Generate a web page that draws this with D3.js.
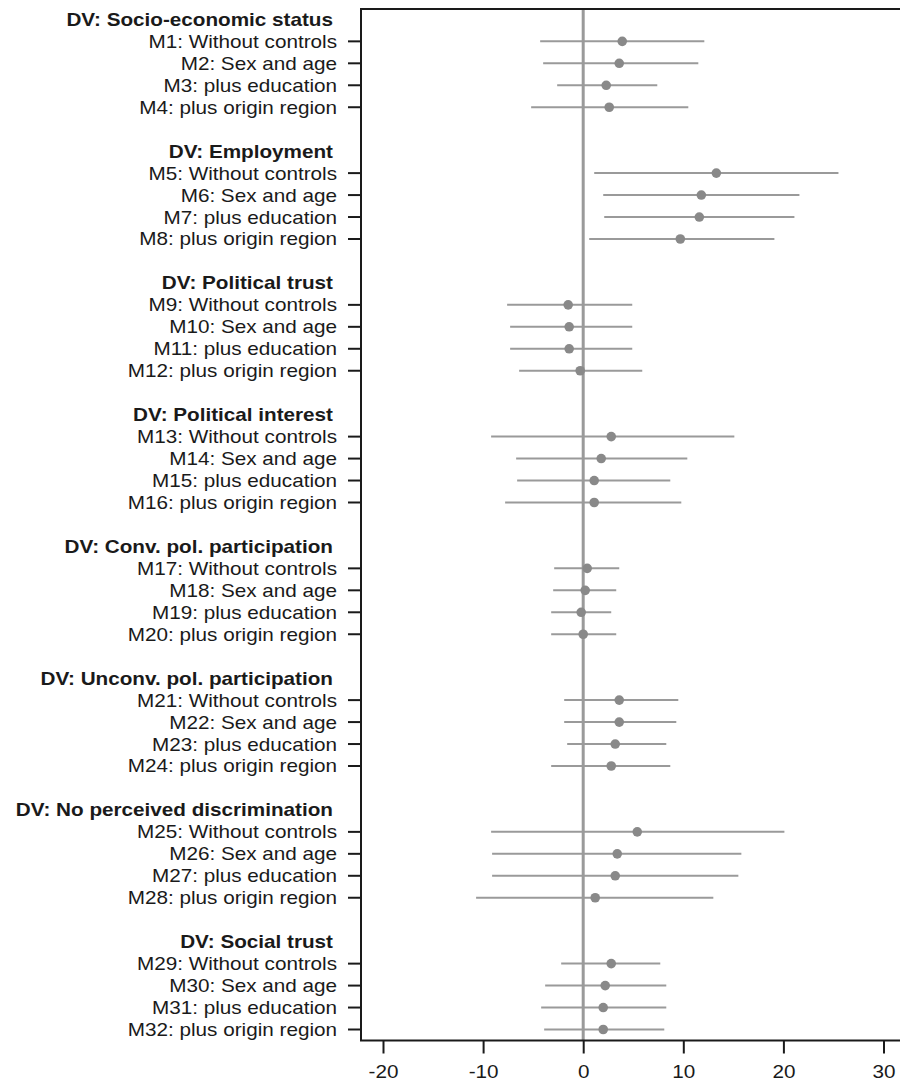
<!DOCTYPE html>
<html>
<head>
<meta charset="utf-8">
<script src="https://cdn.jsdelivr.net/npm/d3@7"></script>
<style>
  html, body { margin: 0; padding: 0; background: #fff; }
  svg text { font-family: "Liberation Sans", Arial, sans-serif; fill: #1a1a1a; }
</style>
</head>
<body>
<div id="chart"></div>
<script>
// dependent variables (group headings)
const groups = [
  "DV: Socio-economic status",
  "DV: Employment",
  "DV: Political trust",
  "DV: Political interest",
  "DV: Conv. pol. participation",
  "DV: Unconv. pol. participation",
  "DV: No perceived discrimination",
  "DV: Social trust",
];

const models = [
  "M1: Without controls", "M2: Sex and age", "M3: plus education", "M4: plus origin region",
  "M5: Without controls", "M6: Sex and age", "M7: plus education", "M8: plus origin region",
  "M9: Without controls", "M10: Sex and age", "M11: plus education", "M12: plus origin region",
  "M13: Without controls", "M14: Sex and age", "M15: plus education", "M16: plus origin region",
  "M17: Without controls", "M18: Sex and age", "M19: plus education", "M20: plus origin region",
  "M21: Without controls", "M22: Sex and age", "M23: plus education", "M24: plus origin region",
  "M25: Without controls", "M26: Sex and age", "M27: plus education", "M28: plus origin region",
  "M29: Without controls", "M30: Sex and age", "M31: plus education", "M32: plus origin region",
];

const estimate = [
  3.9, 3.6, 2.3, 2.6,
  13.3, 11.8, 11.6, 9.7,
  -1.5, -1.4, -1.4, -0.3,
  2.8, 1.8, 1.1, 1.1,
  0.4, 0.2, -0.2, 0.0,
  3.6, 3.6, 3.2, 2.8,
  5.4, 3.4, 3.2, 1.2,
  2.8, 2.2, 2.0, 2.0,
];
const lower = [
  -4.3, -4.0, -2.6, -5.2,
  1.1, 2.0, 2.1, 0.6,
  -7.6, -7.3, -7.3, -6.4,
  -9.2, -6.7, -6.6, -7.8,
  -2.9, -3.0, -3.2, -3.2,
  -1.9, -1.9, -1.6, -3.2,
  -9.2, -9.1, -9.1, -10.7,
  -2.2, -3.8, -4.2, -3.9,
];
const upper = [
  12.1, 11.5, 7.4, 10.5,
  25.5, 21.6, 21.1, 19.1,
  4.9, 4.9, 4.9, 5.9,
  15.1, 10.4, 8.7, 9.8,
  3.6, 3.3, 2.8, 3.3,
  9.5, 9.3, 8.3, 8.7,
  20.1, 15.8, 15.5, 13.0,
  7.7, 8.3, 8.3, 8.1,
];
const xTicks = [-20, -10, 0, 10, 20, 30];

// layout
const width = 900, height = 1081;
const plotLeft = 361, plotTop = 9, plotBottom = 1040.5;
const stretch = 1.15;              // text in the original is widened horizontally
const fontSize = "18px";

// one slot per heading / model / spacer
const rows = [];
groups.forEach((g, gi) => {
  if (gi > 0) rows.push({ type: "gap", key: "gap" + gi });
  rows.push({ type: "head", key: g });
  for (let k = 0; k < 4; k++) {
    const i = gi * 4 + k;
    rows.push({ type: "model", key: models[i], est: estimate[i], lo: lower[i], hi: upper[i] });
  }
});

const svg = d3.select("#chart").append("svg")
  .attr("width", width).attr("height", height);

const x = d3.scaleLinear().domain([-20, 30]).range([383, 883.5]);
const y = d3.scalePoint()
  .domain(rows.map((r) => r.key))
  .range([19.4, 1029.5]);

// zero reference line
svg.append("line")
  .attr("x1", x(0)).attr("x2", x(0))
  .attr("y1", plotTop).attr("y2", plotBottom)
  .attr("stroke", "#9a9a9a").attr("stroke-width", 3);

const modelRows = rows.filter((r) => r.type === "model");

svg.append("g").selectAll("line")
  .data(modelRows)
  .join("line")
  .attr("x1", (d) => x(d.lo)).attr("x2", (d) => x(d.hi))
  .attr("y1", (d) => y(d.key)).attr("y2", (d) => y(d.key))
  .attr("stroke", "#9a9a9a").attr("stroke-width", 2);

svg.append("g").selectAll("circle")
  .data(modelRows)
  .join("circle")
  .attr("cx", (d) => x(d.est)).attr("cy", (d) => y(d.key))
  .attr("r", 4.8)
  .attr("fill", "#898989");

// frame: left, top, bottom
svg.append("path")
  .attr("d", `M${width + 5},${plotTop}H${plotLeft}V${plotBottom}H${width + 5}`)
  .attr("fill", "none").attr("stroke", "#1a1a1a").attr("stroke-width", 2);

// y ticks + labels
svg.append("g").selectAll("line")
  .data(modelRows)
  .join("line")
  .attr("x1", plotLeft - 13).attr("x2", plotLeft)
  .attr("y1", (d) => y(d.key)).attr("y2", (d) => y(d.key))
  .attr("stroke", "#1a1a1a").attr("stroke-width", 2);

svg.append("g").selectAll("text")
  .data(modelRows)
  .join("text")
  .attr("transform", (d) => `translate(337,${y(d.key) + 6.5}) scale(${stretch},1)`)
  .attr("text-anchor", "end")
  .style("font-size", fontSize)
  .text((d) => d.key);

svg.append("g").selectAll("text")
  .data(rows.filter((r) => r.type === "head"))
  .join("text")
  .attr("transform", (d) => `translate(333,${y(d.key) + 6.5}) scale(${stretch},1)`)
  .attr("text-anchor", "end")
  .style("font-size", fontSize)
  .style("font-weight", "bold")
  .text((d) => d.key);

// x axis
const xAxis = svg.append("g")
  .attr("transform", `translate(0,${plotBottom})`)
  .call(d3.axisBottom(x).tickValues(xTicks).tickSize(13).tickPadding(0).tickFormat(d3.format("d")));
xAxis.select(".domain").remove();
xAxis.selectAll(".tick line").attr("stroke", "#1a1a1a").attr("stroke-width", 2);
xAxis.selectAll(".tick text")
  .attr("y", 0).attr("dy", null)
  .attr("transform", `translate(0,37.5) scale(${stretch},1)`)
  .style("font-size", fontSize)
  .style("font-family", "'Liberation Sans', Arial, sans-serif")
  .attr("fill", "#1a1a1a")
  .text((d) => (d < 0 ? "-" + Math.abs(d) : d));
</script>
</body>
</html>
